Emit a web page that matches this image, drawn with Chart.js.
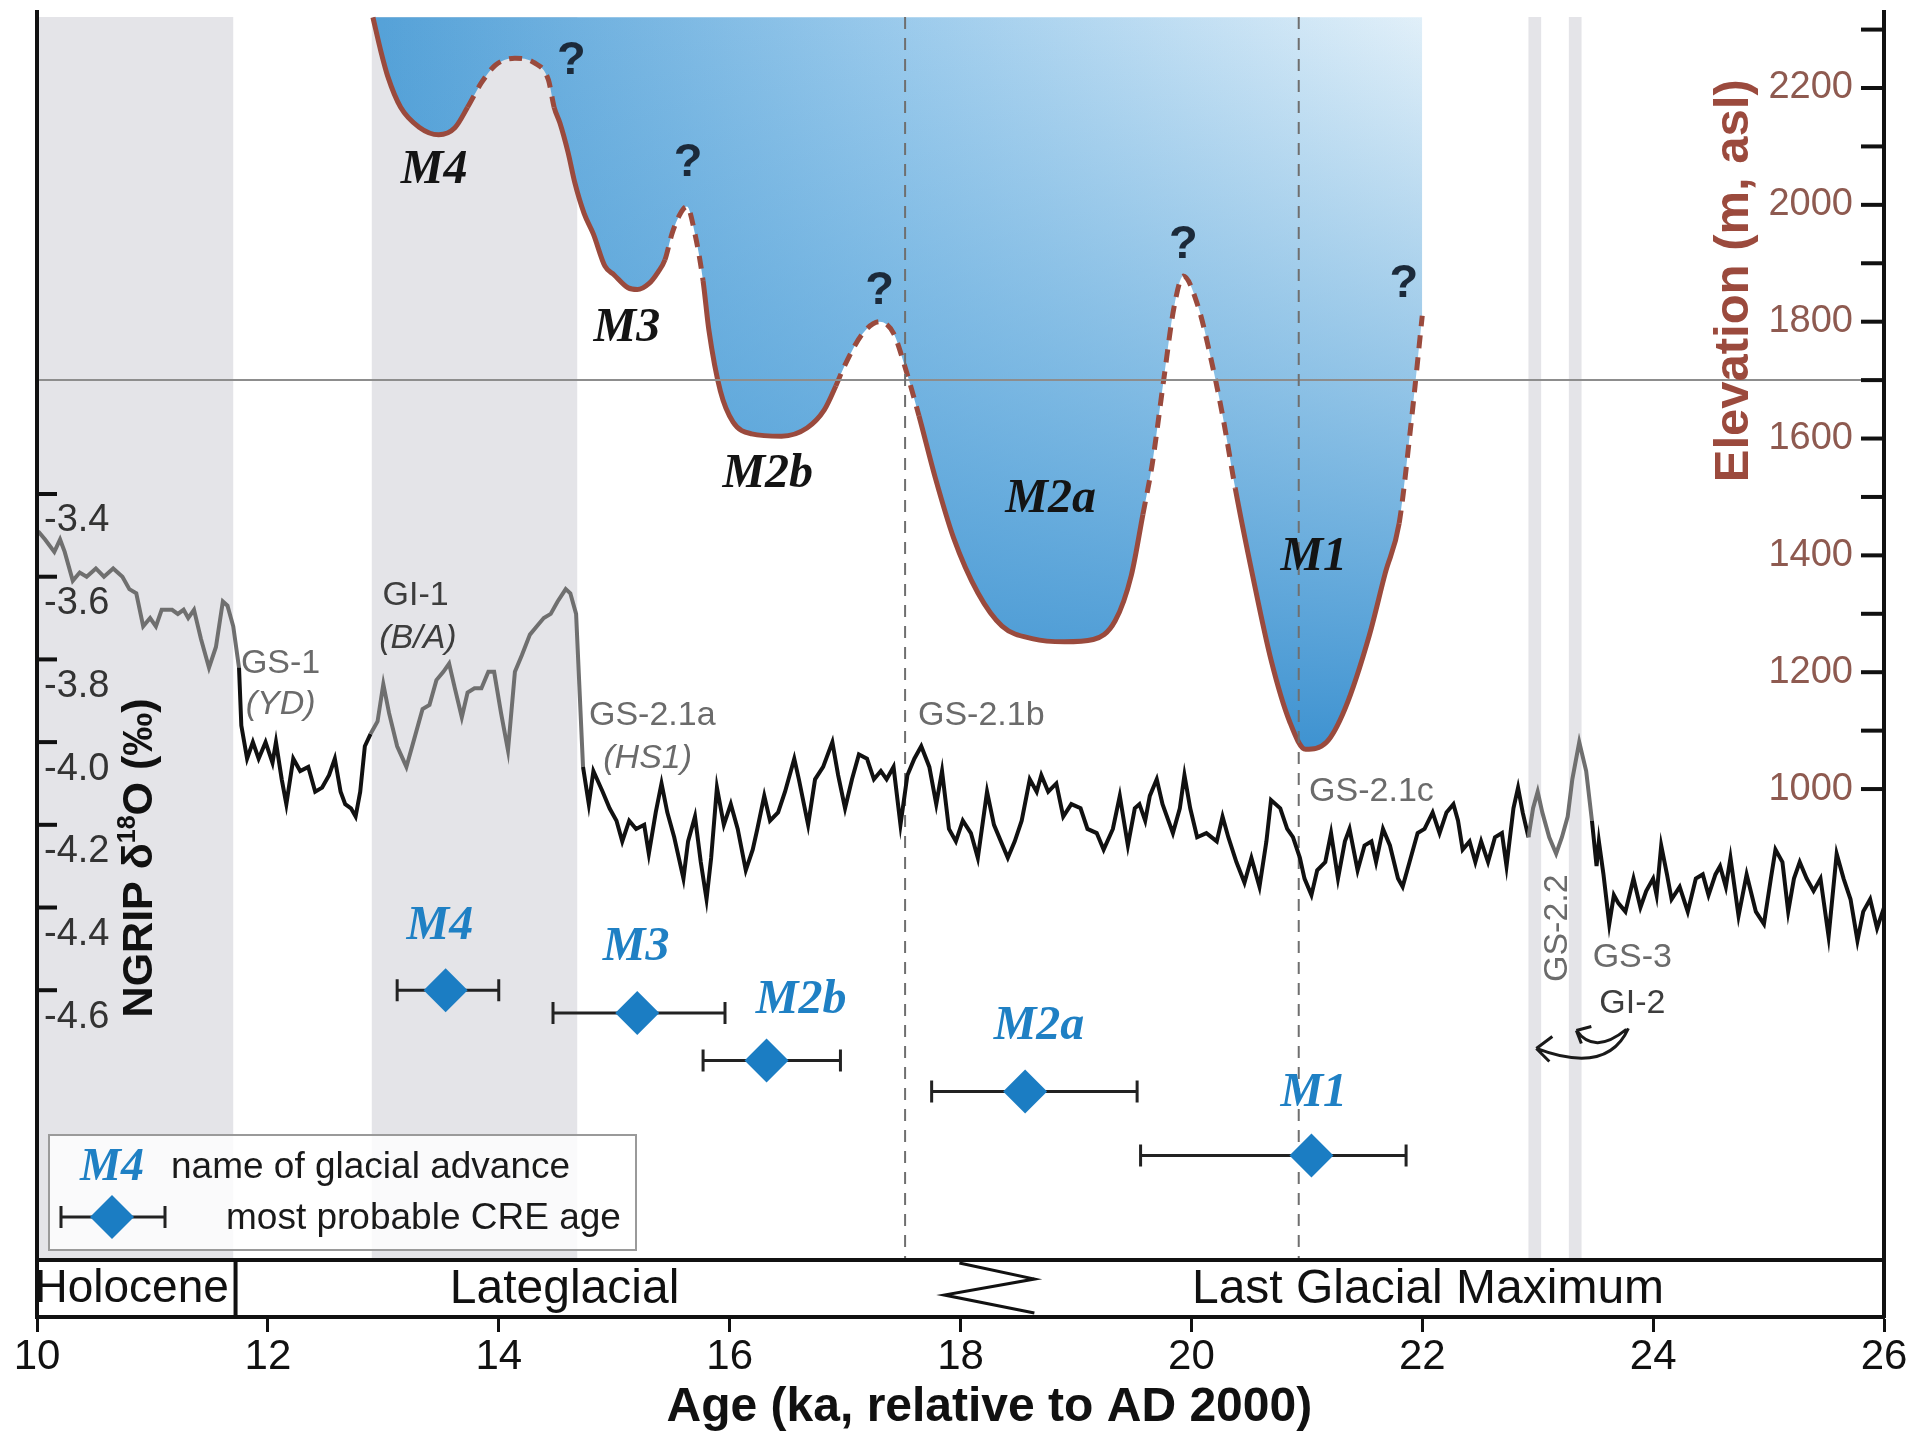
<!DOCTYPE html>
<html>
<head>
<meta charset="utf-8">
<script src="https://cdn.jsdelivr.net/npm/chart.js@4.4.1/dist/chart.umd.min.js"></script>
<style>
  html, body { margin: 0; padding: 0; background: #fff; }
</style>
</head>
<body>
<canvas id="chart" width="1917" height="1438"></canvas>
<script>
// ---------- data ----------
const ageTicks = [10, 12, 14, 16, 18, 20, 22, 24, 26];
const d18oTicks = [-3.4, -3.6, -3.8, -4.0, -4.2, -4.4, -4.6];
const elevTicks = [1000, 1100, 1200, 1300, 1400, 1500, 1600, 1700, 1800, 1900, 2000, 2100, 2200, 2300];
const elevTickLabels = [1000, 1200, 1400, 1600, 1800, 2000, 2200];

// NGRIP d18O record (ka b2k, permil as printed on the axis)
const ngripAge = [10.01,10.07,10.15,10.20,10.24,10.31,10.37,10.43,10.51,10.58,10.66,10.74,10.80,10.86,10.92,10.98,11.03,11.08,11.12,11.17,11.22,11.27,11.31,11.36,11.42,11.49,11.55,11.61,11.65,11.70,11.75,11.77,11.82,11.87,11.92,11.98,12.04,12.07,12.12,12.16,12.22,12.28,12.35,12.41,12.47,12.53,12.58,12.63,12.67,12.72,12.76,12.80,12.84,12.89,12.95,13.00,13.05,13.12,13.20,13.26,13.34,13.40,13.46,13.52,13.57,13.62,13.68,13.73,13.79,13.85,13.91,13.96,14.02,14.08,14.14,14.20,14.27,14.33,14.39,14.45,14.51,14.58,14.62,14.67,14.73,14.78,14.82,14.90,14.96,15.02,15.07,15.13,15.19,15.26,15.30,15.36,15.41,15.46,15.52,15.60,15.64,15.70,15.75,15.80,15.84,15.89,15.95,16.01,16.07,16.14,16.20,16.24,16.30,16.35,16.42,16.48,16.56,16.60,16.68,16.74,16.81,16.89,16.94,17.00,17.06,17.12,17.19,17.25,17.31,17.36,17.42,17.48,17.54,17.60,17.66,17.73,17.79,17.84,17.90,17.96,18.02,18.09,18.15,18.23,18.29,18.35,18.41,18.47,18.53,18.60,18.66,18.70,18.76,18.83,18.89,18.96,19.04,19.10,19.18,19.24,19.32,19.38,19.45,19.51,19.55,19.60,19.64,19.70,19.75,19.84,19.90,19.94,19.99,20.05,20.13,20.22,20.27,20.32,20.39,20.46,20.52,20.59,20.65,20.69,20.77,20.83,20.88,20.94,20.98,21.04,21.09,21.16,21.21,21.27,21.33,21.37,21.44,21.50,21.56,21.60,21.66,21.72,21.79,21.83,21.89,21.96,22.02,22.09,22.15,22.21,22.27,22.31,22.35,22.41,22.46,22.51,22.57,22.63,22.69,22.73,22.79,22.83,22.87,22.92,22.96,23.00,23.04,23.10,23.16,23.21,23.26,23.30,23.36,23.42,23.47,23.51,23.53,23.57,23.62,23.66,23.70,23.76,23.83,23.89,23.94,24.00,24.03,24.07,24.12,24.16,24.23,24.30,24.37,24.43,24.48,24.54,24.58,24.63,24.67,24.74,24.81,24.89,24.96,25.02,25.06,25.12,25.17,25.22,25.27,25.33,25.39,25.45,25.52,25.59,25.65,25.71,25.77,25.82,25.88,25.94,26.00];
const ngripD18O = [-3.49,-3.51,-3.54,-3.51,-3.54,-3.61,-3.59,-3.60,-3.58,-3.60,-3.58,-3.60,-3.63,-3.64,-3.72,-3.70,-3.72,-3.68,-3.68,-3.68,-3.69,-3.68,-3.70,-3.68,-3.75,-3.82,-3.77,-3.66,-3.67,-3.72,-3.82,-3.96,-4.04,-4.00,-4.04,-4.00,-4.05,-4.00,-4.09,-4.15,-4.04,-4.07,-4.06,-4.12,-4.11,-4.08,-4.04,-4.12,-4.15,-4.16,-4.18,-4.12,-4.01,-3.98,-3.95,-3.86,-3.93,-4.01,-4.06,-4.00,-3.92,-3.91,-3.85,-3.83,-3.81,-3.87,-3.94,-3.88,-3.87,-3.87,-3.83,-3.83,-3.93,-4.02,-3.83,-3.79,-3.74,-3.72,-3.70,-3.69,-3.66,-3.63,-3.64,-3.69,-4.06,-4.15,-4.07,-4.12,-4.16,-4.19,-4.24,-4.19,-4.21,-4.20,-4.27,-4.17,-4.10,-4.17,-4.23,-4.33,-4.24,-4.18,-4.29,-4.38,-4.28,-4.11,-4.20,-4.15,-4.21,-4.31,-4.26,-4.21,-4.13,-4.19,-4.17,-4.12,-4.04,-4.09,-4.20,-4.09,-4.06,-4.00,-4.08,-4.16,-4.09,-4.03,-4.04,-4.09,-4.07,-4.09,-4.06,-4.20,-4.08,-4.04,-4.01,-4.06,-4.15,-4.07,-4.21,-4.24,-4.19,-4.22,-4.28,-4.12,-4.20,-4.24,-4.28,-4.24,-4.19,-4.09,-4.12,-4.08,-4.12,-4.10,-4.18,-4.15,-4.16,-4.21,-4.22,-4.26,-4.21,-4.13,-4.25,-4.16,-4.15,-4.19,-4.13,-4.09,-4.15,-4.22,-4.16,-4.08,-4.16,-4.23,-4.22,-4.24,-4.18,-4.23,-4.29,-4.34,-4.28,-4.35,-4.24,-4.14,-4.16,-4.21,-4.23,-4.28,-4.33,-4.37,-4.31,-4.29,-4.22,-4.33,-4.24,-4.21,-4.31,-4.25,-4.24,-4.29,-4.21,-4.25,-4.33,-4.35,-4.29,-4.22,-4.21,-4.17,-4.22,-4.17,-4.15,-4.19,-4.26,-4.24,-4.29,-4.24,-4.29,-4.23,-4.22,-4.30,-4.16,-4.11,-4.17,-4.23,-4.16,-4.12,-4.17,-4.23,-4.27,-4.23,-4.18,-4.09,-4.00,-4.07,-4.19,-4.30,-4.24,-4.32,-4.44,-4.37,-4.39,-4.41,-4.33,-4.40,-4.36,-4.33,-4.37,-4.25,-4.32,-4.38,-4.35,-4.41,-4.33,-4.32,-4.37,-4.32,-4.30,-4.35,-4.28,-4.42,-4.32,-4.41,-4.44,-4.33,-4.26,-4.29,-4.41,-4.33,-4.29,-4.33,-4.36,-4.33,-4.47,-4.27,-4.33,-4.38,-4.48,-4.41,-4.38,-4.45,-4.40];
// stretches of the NGRIP curve printed in grey (Holocene, GI-1, GI-2)
const interstadials = [[10, 11.73], [12.9, 14.72], [22.9, 23.45]];
// grey background bands (ka)
const greyBands = [[10, 11.7], [12.9, 14.68], [22.92, 23.03], [23.27, 23.38]];

// reconstructed glacier elevation, m asl
const elevAge = [12.91,12.98,13.04,13.15,13.31,13.48,13.62,13.73,13.85,13.97,14.14,14.31,14.43,14.48,14.53,14.60,14.66,14.74,14.82,14.92,15.00,15.12,15.20,15.30,15.38,15.44,15.50,15.57,15.63,15.70,15.77,15.82,15.92,16.03,16.19,16.45,16.67,16.82,16.92,16.99,17.15,17.30,17.42,17.52,17.64,17.78,17.94,18.15,18.36,18.63,18.90,19.15,19.34,19.48,19.58,19.66,19.76,19.85,19.93,20.06,20.16,20.27,20.38,20.53,20.69,20.85,20.99,21.17,21.33,21.54,21.68,21.80,21.90,22.00];
const elevM = [2321,2262,2219,2167,2133,2120,2132,2167,2209,2239,2251,2243,2214,2167,2140,2090,2037,1985,1950,1895,1880,1858,1855,1865,1885,1906,1950,1984,1997,1950,1870,1786,1681,1628,1608,1604,1618,1649,1690,1722,1779,1800,1780,1722,1639,1534,1430,1336,1279,1257,1252,1256,1288,1366,1470,1555,1700,1825,1878,1825,1745,1640,1515,1366,1221,1116,1068,1080,1137,1262,1370,1455,1620,1810];
const iceTop = 2321;
// uncertain parts of the elevation curve (drawn dashed)
const uncertainStretches = [[13.75, 14.5], [15.44, 15.79], [16.92, 17.62], [19.6, 20.42], [21.8, 22.05]];

// glacial advances: most probable CRE age with range
const advanceNames = ['M4', 'M3', 'M2b', 'M2a', 'M1'];
const advanceAge = [13.54, 15.20, 16.32, 18.56, 21.04];
const advanceAgeLo = [13.12, 14.47, 15.77, 17.75, 19.56];
const advanceAgeHi = [14.00, 15.96, 16.96, 19.53, 21.86];
const advanceRow = [-4.60, -4.655, -4.77, -4.845, -5.00];   // vertical slot, on the d18O axis

const ageRefLines = [17.52, 20.93];
const elevRefLine = 1700;

const periodNames = ['Holocene', 'Lateglacial', 'Last Glacial Maximum'];
const periodLabelAge = [10.82, 14.57, 22.05];
const holoceneEnd = 11.72;

// ---------- annotation placement ----------
const SANS = '"Liberation Sans", Arial, sans-serif';
const SERIF = '"Liberation Serif", "Times New Roman", serif';
const BAR_H = 57;

const glacierLabels = [['M4', 13.44, 2058], ['M3', 15.11, 1789], ['M2b', 16.33, 1539], ['M2a', 18.78, 1496], ['M1', 21.06, 1397]];
const queryMarks = [[14.63, 2246], [15.64, 2072], [17.30, 1853], [19.93, 1931], [21.84, 1865]];
const blueLabels = [[13.49, -4.447], [15.19, -4.498], [16.62, -4.624], [18.68, -4.689], [21.06, -4.851]];
const eventLabels = [
  ['GS-1', 12.11, -3.81, false, '#6b6b6b'],
  ['(YD)', 12.11, -3.91, true, '#6b6b6b'],
  ['GI-1', 13.28, -3.645, false, '#3d3d3d'],
  ['(B/A)', 13.30, -3.75, true, '#3d3d3d'],
  ['GS-2.1a', 15.33, -3.935, false, '#6b6b6b'],
  ['(HS1)', 15.29, -4.04, true, '#6b6b6b'],
  ['GS-2.1b', 18.18, -3.935, false, '#6b6b6b'],
  ['GS-2.1c', 21.56, -4.12, false, '#6b6b6b'],
  ['GS-3', 23.82, -4.52, false, '#6b6b6b'],
  ['GI-2', 23.82, -4.632, false, '#3d3d3d']
];

function inRanges(t, ranges) {
  return ranges.some(r => t >= r[0] && t <= r[1]);
}

function text(ctx, s, x, y, font, color, align, rot) {
  ctx.save();
  ctx.font = font;
  ctx.fillStyle = color;
  ctx.textAlign = align || 'center';
  ctx.textBaseline = 'middle';
  ctx.translate(x, y);
  if (rot) ctx.rotate(rot);
  ctx.fillText(s, 0, 0);
  ctx.restore();
}

let icePattern = null, iceKey = '';
function iceFill(context) {
  const chart = context.chart;
  const area = chart.chartArea;
  if (!area) return '#6aaede';
  const key = [area.left, area.top, area.right, area.bottom].join(',');
  if (icePattern && key === iceKey) return icePattern;
  const x = chart.scales.x, ye = chart.scales.yElev;
  const off = document.createElement('canvas');
  off.width = chart.width; off.height = chart.height;
  const c = off.getContext('2d');
  const h = c.createLinearGradient(x.getPixelForValue(13), 0, x.getPixelForValue(22), 0);
  h.addColorStop(0, '#56a2d8');
  h.addColorStop(0.5, '#9ccbec');
  h.addColorStop(1, '#e2f0f9');
  c.fillStyle = h;
  c.fillRect(0, 0, off.width, off.height);
  const v = c.createLinearGradient(0, ye.getPixelForValue(2330), 0, ye.getPixelForValue(1050));
  v.addColorStop(0, 'rgba(74,157,214,0)');
  v.addColorStop(0.5, 'rgba(70,154,213,0.5)');
  v.addColorStop(1, 'rgba(60,145,208,1)');
  c.fillStyle = v;
  c.fillRect(0, 0, off.width, off.height);
  icePattern = chart.ctx.createPattern(off, 'no-repeat');
  iceKey = key;
  return icePattern;
}

function drawDiamond(ctx, x, y, r, color) {
  ctx.save();
  ctx.fillStyle = color;
  ctx.beginPath();
  ctx.moveTo(x, y - r); ctx.lineTo(x + r, y); ctx.lineTo(x, y + r); ctx.lineTo(x - r, y);
  ctx.closePath();
  ctx.fill();
  ctx.restore();
}

function errorBar(ctx, x0, x1, y) {
  ctx.beginPath();
  ctx.moveTo(x0, y); ctx.lineTo(x1, y);
  ctx.moveTo(x0, y - 11); ctx.lineTo(x0, y + 11);
  ctx.moveTo(x1, y - 11); ctx.lineTo(x1, y + 11);
  ctx.stroke();
}

const decor = {
  id: 'decor',
  beforeDatasetsDraw(chart) {
    const {ctx, chartArea: a, scales: {x}} = chart;
    const barTop = a.bottom - BAR_H;
    ctx.save();
    ctx.fillStyle = '#e4e4e8';
    greyBands.forEach(([t0, t1]) => {
      const x0 = x.getPixelForValue(t0), x1 = x.getPixelForValue(t1);
      ctx.fillRect(x0, a.top + 5, x1 - x0, barTop - a.top - 5);
    });
    ctx.restore();
  },
  afterDatasetDraw(chart, args) {
    const {ctx, chartArea: a, scales: {x, y, yElev}} = chart;
    const label = chart.data.datasets[args.index].label;
    const barTop = a.bottom - BAR_H;
    ctx.save();
    if (label === 'Elevation') {
      const yy = yElev.getPixelForValue(elevRefLine);
      ctx.strokeStyle = '#8d8d8d';
      ctx.lineWidth = 2;
      ctx.beginPath(); ctx.moveTo(a.left, yy); ctx.lineTo(a.right, yy); ctx.stroke();
      ctx.strokeStyle = '#6f6f6f';
      ctx.setLineDash([12, 9]);
      ageRefLines.forEach(t => {
        const xx = x.getPixelForValue(t);
        ctx.beginPath(); ctx.moveTo(xx, a.top + 5); ctx.lineTo(xx, barTop); ctx.stroke();
      });
    }
    if (label === 'NGRIP') {
      ctx.strokeStyle = '#222';
      ctx.lineWidth = 3;
      advanceAge.forEach((t, i) => {
        errorBar(ctx, x.getPixelForValue(advanceAgeLo[i]), x.getPixelForValue(advanceAgeHi[i]), y.getPixelForValue(advanceRow[i]));
      });
    }
    ctx.restore();
  },
  afterDraw(chart) {
    const {ctx, chartArea: a, scales: {x, y, yElev}} = chart;
    const barTop = a.bottom - BAR_H;
    ctx.save();

    // inward tick marks on both vertical axes
    ctx.strokeStyle = '#111';
    ctx.lineWidth = 4;
    d18oTicks.forEach(v => {
      const yy = y.getPixelForValue(v);
      ctx.beginPath(); ctx.moveTo(a.left, yy); ctx.lineTo(a.left + 20, yy); ctx.stroke();
    });
    elevTicks.forEach(v => {
      const yy = yElev.getPixelForValue(v);
      ctx.beginPath(); ctx.moveTo(a.right - 23, yy); ctx.lineTo(a.right, yy); ctx.stroke();
    });

    // glacier-profile labels
    glacierLabels.forEach(([s, t, m]) => text(ctx, s, x.getPixelForValue(t), yElev.getPixelForValue(m), 'bold italic 48px ' + SERIF, '#141414'));
    queryMarks.forEach(([t, m]) => text(ctx, '?', x.getPixelForValue(t), yElev.getPixelForValue(m), 'bold 47px ' + SANS, '#1c2a3a'));

    // NGRIP event labels
    eventLabels.forEach(([s, t, v, it, col]) => text(ctx, s, x.getPixelForValue(t), y.getPixelForValue(v), (it ? 'italic ' : '') + '34px ' + SANS, col));
    text(ctx, 'GS-2.2', x.getPixelForValue(23.17), y.getPixelForValue(-4.45), '34px ' + SANS, '#6b6b6b', 'center', -Math.PI / 2);

    // curved arrows from GI-2
    const ax = x.getPixelForValue(23.82), ay = y.getPixelForValue(-4.632);
    ctx.strokeStyle = '#1a1a1a';
    ctx.lineWidth = 3;
    ctx.beginPath();
    ctx.moveTo(ax - 4, ay + 25);
    ctx.quadraticCurveTo(ax - 25, ay + 72, ax - 96, ay + 45);
    ctx.moveTo(ax - 96, ay + 45); ctx.lineTo(ax - 80, ay + 33);
    ctx.moveTo(ax - 96, ay + 45); ctx.lineTo(ax - 83, ay + 58);
    ctx.moveTo(ax - 6, ay + 26);
    ctx.quadraticCurveTo(ax - 38, ay + 52, ax - 56, ay + 27);
    ctx.moveTo(ax - 56, ay + 27); ctx.lineTo(ax - 41, ay + 23);
    ctx.moveTo(ax - 56, ay + 27); ctx.lineTo(ax - 51, ay + 40);
    ctx.stroke();

    // blue advance names
    blueLabels.forEach(([t, v], i) => text(ctx, advanceNames[i], x.getPixelForValue(t), y.getPixelForValue(v), 'bold italic 48px ' + SERIF, '#1f80c4'));

    // legend box
    const lx = a.left + 12, ly = barTop - 125;
    ctx.fillStyle = 'rgba(255,255,255,0.82)';
    ctx.fillRect(lx, ly, 587, 115);
    ctx.strokeStyle = '#9a9a9a';
    ctx.lineWidth = 2;
    ctx.strokeRect(lx, ly, 587, 115);
    text(ctx, 'M4', lx + 63, ly + 33, 'bold italic 46px ' + SERIF, '#1f80c4');
    text(ctx, 'name of glacial advance', lx + 122, ly + 33, '37px ' + SANS, '#1a1a1a', 'left');
    ctx.strokeStyle = '#222';
    ctx.lineWidth = 3;
    errorBar(ctx, lx + 12, lx + 116, ly + 82);
    drawDiamond(ctx, lx + 63, ly + 82, 22, '#1b7dc3');
    text(ctx, 'most probable CRE age', lx + 177, ly + 84, '37px ' + SANS, '#1a1a1a', 'left');

    // period bar
    ctx.fillStyle = '#fff';
    ctx.fillRect(a.left + 2, barTop, a.right - a.left - 4, BAR_H - 2);
    ctx.strokeStyle = '#111';
    ctx.lineWidth = 4;
    ctx.beginPath();
    ctx.moveTo(a.left - 2, barTop); ctx.lineTo(a.right + 2, barTop);
    const hx = x.getPixelForValue(holoceneEnd);
    ctx.moveTo(hx, barTop); ctx.lineTo(hx, a.bottom);
    ctx.stroke();
    ctx.lineWidth = 3;
    ctx.beginPath();
    ctx.moveTo(x.getPixelForValue(17.99), barTop + 3);
    ctx.lineTo(x.getPixelForValue(18.64), barTop + 19);
    ctx.lineTo(x.getPixelForValue(17.86), barTop + 35);
    ctx.lineTo(x.getPixelForValue(18.64), barTop + 53);
    ctx.stroke();
    periodNames.forEach((s, i) => text(ctx, s, x.getPixelForValue(periodLabelAge[i]), barTop + BAR_H / 2 + 1, (i === 0 ? 46 : 48) + 'px ' + SANS, '#111'));

    // axis titles
    text(ctx, 'Age (ka, relative to AD 2000)', x.getPixelForValue(18.25), 1408, 'bold 48px ' + SANS, '#111');
    text(ctx, 'Elevation (m, asl)', a.right - 150, yElev.getPixelForValue(1870), 'bold 49px ' + SANS, '#9b4a3d', 'center', -Math.PI / 2);

    // NGRIP d18O (permil) with superscript
    ctx.save();
    ctx.translate(a.left + 100, y.getPixelForValue(-4.28));
    ctx.rotate(-Math.PI / 2);
    ctx.fillStyle = '#111';
    ctx.textBaseline = 'alphabetic';
    const big = 'bold 43px ' + SANS, small = 'bold 25px ' + SANS;
    const parts = [['NGRIP \u03b4', big, 0], ['18', small, -17], ['O (\u2030)', big, 0]];
    let total = 0;
    parts.forEach(p => { ctx.font = p[1]; total += ctx.measureText(p[0]).width; });
    let px = -total / 2;
    parts.forEach(p => {
      ctx.font = p[1];
      ctx.fillText(p[0], px, 15 + p[2]);
      px += ctx.measureText(p[0]).width;
    });
    ctx.restore();

    ctx.restore();
  }
};

new Chart(document.getElementById('chart'), {
  type: 'line',
  data: {
    datasets: [
      {
        label: 'CRE age',
        type: 'scatter',
        data: advanceAge.map((t, i) => ({x: t, y: advanceRow[i]})),
        yAxisID: 'y',
        pointStyle: 'rectRot',
        pointRadius: 22,
        pointHoverRadius: 22,
        backgroundColor: '#1b7dc3',
        borderWidth: 0
      },
      {
        label: 'NGRIP',
        data: ngripAge.map((t, i) => ({x: t, y: ngripD18O[i]})),
        yAxisID: 'y',
        borderColor: '#111',
        borderWidth: 4,
        pointRadius: 0,
        tension: 0,
        segment: {
          borderColor: c => inRanges((c.p0.parsed.x + c.p1.parsed.x) / 2, interstadials) ? '#6f6f6f' : '#111'
        }
      },
      {
        label: 'Elevation',
        data: elevAge.map((t, i) => ({x: t, y: elevM[i]})),
        yAxisID: 'yElev',
        borderColor: '#9a4a3d',
        borderWidth: 5,
        pointRadius: 0,
        cubicInterpolationMode: 'monotone',
        fill: false,
        segment: {
          borderDash: c => inRanges((c.p0.parsed.x + c.p1.parsed.x) / 2, uncertainStretches) ? [13, 9] : undefined
        }
      },
      {
        label: 'Ice',
        data: elevAge.map((t, i) => ({x: t, y: elevM[i]})),
        yAxisID: 'yElev',
        borderWidth: 0,
        borderColor: 'rgba(0,0,0,0)',
        pointRadius: 0,
        cubicInterpolationMode: 'monotone',
        fill: {value: iceTop},
        backgroundColor: iceFill
      }
    ]
  },
  options: {
    responsive: false,
    animation: false,
    events: [],
    layout: {autoPadding: false, padding: {left: 37, right: 33, top: 12, bottom: 0}},
    plugins: {legend: {display: false}, tooltip: {enabled: false}},
    scales: {
      x: {
        type: 'linear',
        min: 10,
        max: 26,
        afterBuildTicks: s => { s.ticks = ageTicks.map(v => ({value: v})); },
        afterFit: s => { s.height = 121; s.paddingLeft = 0; s.paddingRight = 0; },
        grid: {drawOnChartArea: false, tickLength: 15, tickWidth: 3, color: '#111'},
        border: {color: '#111', width: 4},
        ticks: {font: {family: SANS, size: 42}, color: '#111', padding: 0, maxRotation: 0, autoSkip: false}
      },
      y: {
        position: 'left',
        min: -5.3903,
        max: -2.2343,
        afterBuildTicks: s => { s.ticks = d18oTicks.map(v => ({value: v})); },
        afterFit: s => { s.width = 0; s.paddingTop = 0; s.paddingBottom = 0; },
        grid: {display: false},
        border: {color: '#111', width: 4, z: 1},
        ticks: {z: 1, mirror: true, padding: 7, labelOffset: 27, font: {family: SANS, size: 38}, color: '#333', callback: v => v.toFixed(1)}
      },
      yElev: {
        position: 'right',
        min: 96.3,
        max: 2330.1,
        afterBuildTicks: s => { s.ticks = elevTicks.map(v => ({value: v})); },
        afterFit: s => { s.width = 0; s.paddingTop = 0; s.paddingBottom = 0; },
        grid: {display: false},
        border: {color: '#111', width: 4, z: 1},
        ticks: {z: 1, mirror: true, padding: -31, font: {family: SANS, size: 38}, color: '#8e5a50',
          callback: v => elevTickLabels.includes(v) ? String(v) : ''}
      }
    }
  },
  plugins: [decor]
});
</script>
</body>
</html>
